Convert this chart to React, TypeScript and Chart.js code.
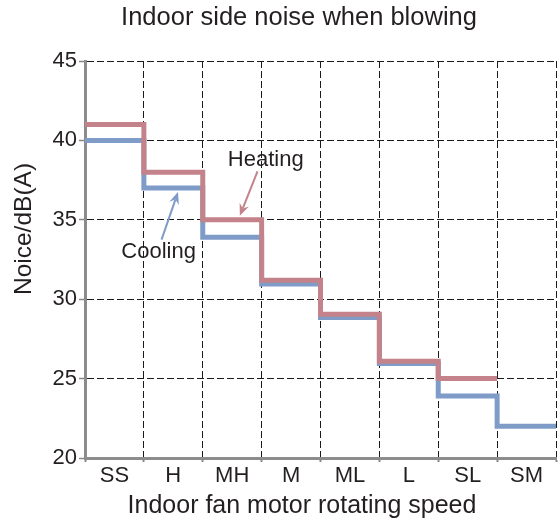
import React, { useEffect, useRef } from 'react';
import { Chart, registerables } from 'chart.js';

Chart.register(...registerables);

const categories = ['SS', 'H', 'MH', 'M', 'ML', 'L', 'SL', 'SM'];
const coolingValues = [40, 37, 33.9, 30.95, 28.85, 25.95, 23.9, 22];
const heatingValues = [41, 38, 35, 31.2, 29.05, 26.1, 25];
const yTicks = [20, 25, 30, 35, 40, 45];

const titleText = 'Indoor side noise when blowing';
const xTitleText = 'Indoor fan motor rotating speed';
const yTitleText = 'Noice/dB(A)';

// annotation labels and arrows, in data units (x: category index units, y: dB)
const heatingLabel = { text: 'Heating', x: 3.07, y: 38.8 };
const coolingLabel = { text: 'Cooling', x: 1.25, y: 33.0 };
const heatingArrow = { x0: 2.93, y0: 38.05, x1: 2.63, y1: 35.25 };
const coolingArrow = { x0: 1.30, y0: 33.75, x1: 1.58, y1: 36.75 };

const RED = '#c4838b';
const BLUE = '#7e9cc7';
const TEXT = '#231f20';
const FONT = '"Liberation Sans", Arial, Helvetica, sans-serif';

function stepPoints(values: number[]) {
  const pts = values.map((v, i) => ({ x: i, y: v }));
  pts.push({ x: values.length, y: values[values.length - 1] });
  return pts;
}

const annotationPlugin = {
  id: 'customText',
  afterDraw(chart: any) {
    const ctx = chart.ctx;
    const xs = chart.scales.x;
    const ys = chart.scales.y;
    ctx.save();
    ctx.fillStyle = TEXT;
    ctx.textAlign = 'center';
    ctx.textBaseline = 'middle';
    ctx.font = `25.5px ${FONT}`;
    ctx.fillText(titleText, 299, 18);
    ctx.font = `25px ${FONT}`;
    ctx.fillText(xTitleText, 302, 506);
    ctx.save();
    ctx.translate(24, 229);
    ctx.rotate(-Math.PI / 2);
    ctx.font = `24.5px ${FONT}`;
    ctx.fillText(yTitleText, 0, 0);
    ctx.restore();

    ctx.font = `22px ${FONT}`;
    for (const l of [heatingLabel, coolingLabel]) {
      ctx.fillText(l.text, xs.getPixelForValue(l.x), ys.getPixelForValue(l.y));
    }

    const drawArrow = (a: any, color: string) => {
      const x0 = xs.getPixelForValue(a.x0);
      const y0 = ys.getPixelForValue(a.y0);
      const x1 = xs.getPixelForValue(a.x1);
      const y1 = ys.getPixelForValue(a.y1);
      const ang = Math.atan2(y1 - y0, x1 - x0);
      const hl = 12;
      const hw = 5;
      const bx = x1 - hl * Math.cos(ang);
      const by = y1 - hl * Math.sin(ang);
      ctx.strokeStyle = color;
      ctx.fillStyle = color;
      ctx.lineWidth = 2;
      ctx.beginPath();
      ctx.moveTo(x0, y0);
      ctx.lineTo(x1 - (hl - 4) * Math.cos(ang), y1 - (hl - 4) * Math.sin(ang));
      ctx.stroke();
      ctx.beginPath();
      ctx.moveTo(x1, y1);
      ctx.lineTo(bx + hw * Math.sin(ang), by - hw * Math.cos(ang));
      ctx.lineTo(x1 - (hl - 4) * Math.cos(ang), y1 - (hl - 4) * Math.sin(ang));
      ctx.lineTo(bx - hw * Math.sin(ang), by + hw * Math.cos(ang));
      ctx.closePath();
      ctx.fill();
    };
    drawArrow(heatingArrow, RED);
    drawArrow(coolingArrow, BLUE);
    ctx.restore();
  },
};

export default function App() {
  const ref = useRef<HTMLCanvasElement>(null);
  useEffect(() => {
    if (!ref.current) return;
    const chart = new Chart(ref.current, {
      type: 'line',
      data: {
        datasets: [
          {
            label: 'Heating',
            data: stepPoints(heatingValues),
            borderColor: RED,
            backgroundColor: RED,
            borderWidth: 5,
            stepped: 'before',
            pointRadius: 0,
            fill: false,
          },
          {
            label: 'Cooling',
            data: stepPoints(coolingValues),
            borderColor: BLUE,
            backgroundColor: BLUE,
            borderWidth: 5,
            stepped: 'before',
            pointRadius: 0,
            fill: false,
          },
        ],
      },
      options: {
        responsive: false,
        animation: false,
        layout: { padding: { top: 61, right: 2, left: 0, bottom: 0 } },
        plugins: {
          legend: { display: false },
          tooltip: { enabled: false },
          title: { display: false },
        },
        scales: {
          x: {
            type: 'linear',
            min: 0,
            max: categories.length,
            afterFit: (s: any) => {
              s.height = 70;
            },
            afterBuildTicks: (s: any) => {
              const t = [];
              for (let i = 0; i <= categories.length * 2; i++) t.push({ value: i / 2 });
              s.ticks = t;
            },
            ticks: {
              autoSkip: false,
              maxRotation: 0,
              minRotation: 0,
              padding: 1,
              color: TEXT,
              font: { family: FONT, size: 22 },
              callback: (v: any) => {
                const n = Number(v);
                return n % 1 === 0.5 ? categories[Math.floor(n)] : '';
              },
            },
            grid: {
              color: (c: any) => (c.tick && c.tick.value % 1 === 0 ? '#1a1a1a' : 'rgba(0,0,0,0)'),
              lineWidth: 1,
              tickLength: 4,
              tickColor: (c: any) => (c.tick && c.tick.value % 1 === 0 ? '#888' : 'rgba(0,0,0,0)'),
              tickWidth: 2,
              tickBorderDash: [],
            },
            border: { display: true, color: '#8c8c8c', width: 3, dash: [7, 3] },
          },
          y: {
            type: 'linear',
            min: 20,
            max: 45,
            afterFit: (s: any) => {
              s.width = 85;
            },
            afterBuildTicks: (s: any) => {
              s.ticks = yTicks.map((v) => ({ value: v }));
            },
            ticks: {
              color: TEXT,
              padding: 2,
              font: { family: FONT, size: 22 },
            },
            grid: {
              color: '#1a1a1a',
              lineWidth: 1,
              tickLength: 6,
              tickColor: '#888',
              tickWidth: 1.5,
              tickBorderDash: [],
            },
            border: { display: true, color: '#8c8c8c', width: 3, dash: [7, 3] },
          },
        },
      },
      plugins: [annotationPlugin],
    });
    return () => chart.destroy();
  }, []);
  return (
    <div style={{ position: 'absolute', left: 0, top: 0, width: 558, height: 528, background: '#fff' }}>
      <canvas ref={ref} width={558} height={528} />
    </div>
  );
}
